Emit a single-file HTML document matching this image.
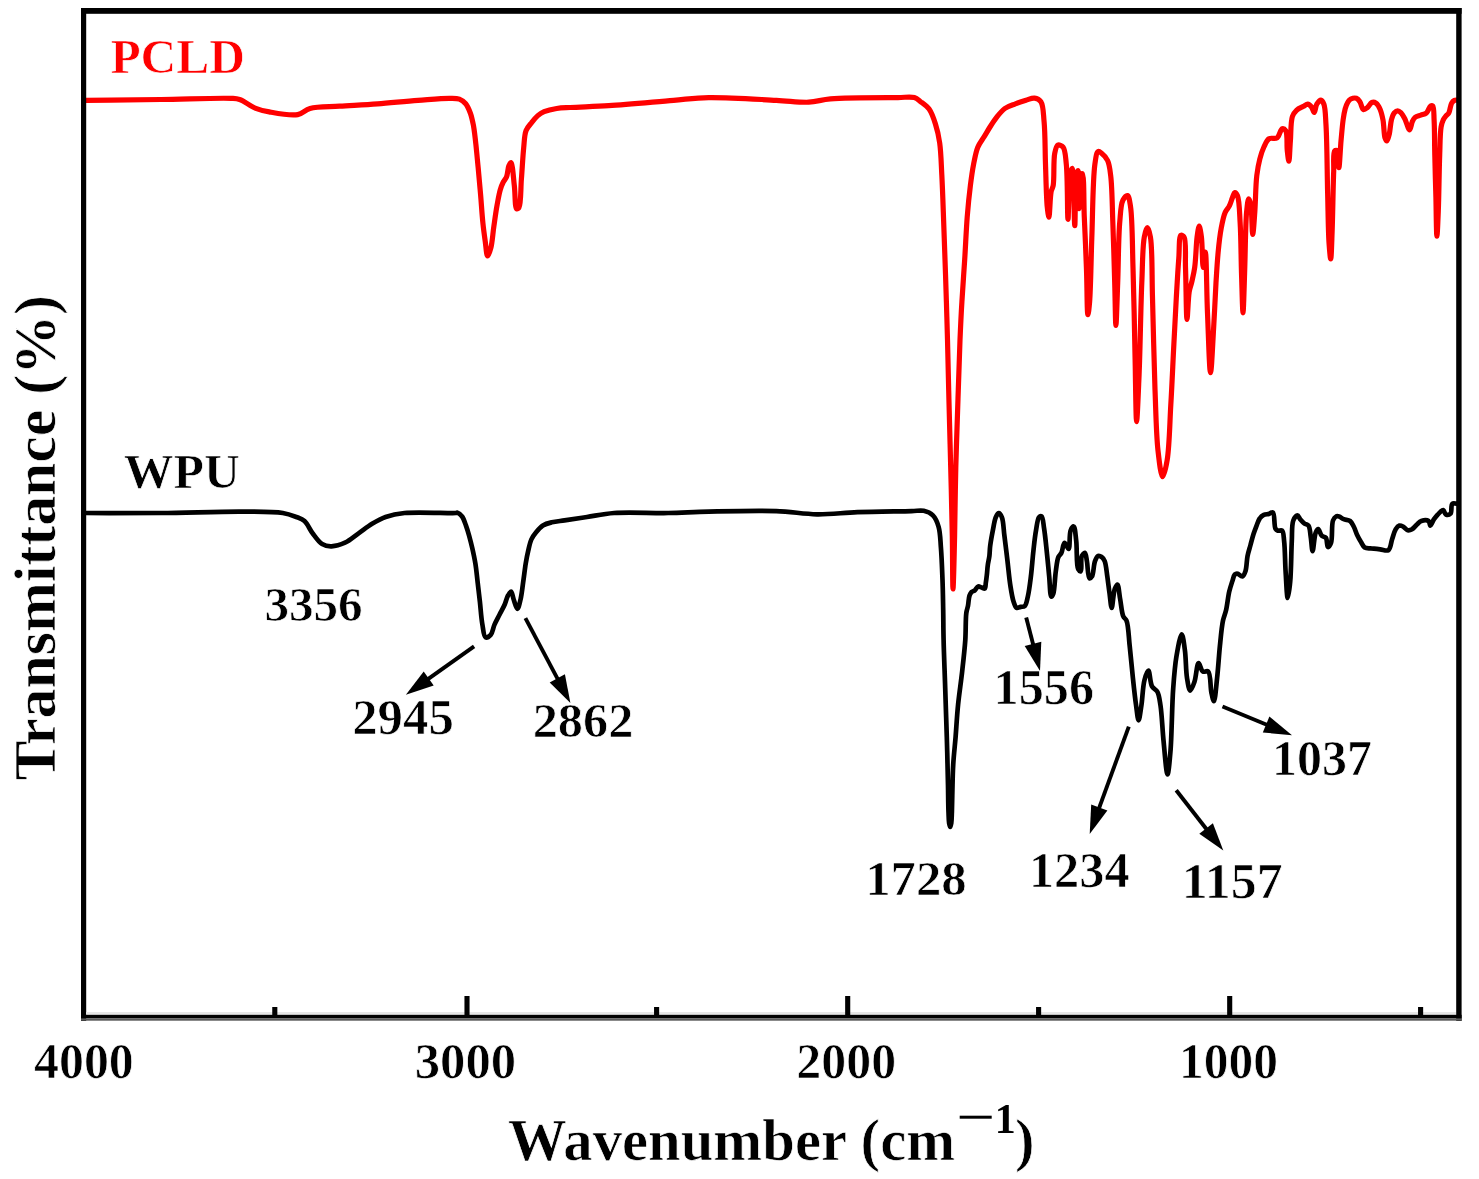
<!DOCTYPE html>
<html><head><meta charset="utf-8"><style>html,body{margin:0;padding:0;background:#fff;}svg{display:block;}</style></head>
<body>
<svg width="1479" height="1179" viewBox="0 0 1479 1179">
<rect width="1479" height="1179" fill="#fff"/>
<g fill="none" stroke-linejoin="round" stroke-linecap="round">
<path d="M86.0,513.0 C111.0,513.0 135.6,513.2 161.1,513.0 C187.6,512.8 219.9,511.4 242.3,511.6 C258.1,511.7 273.0,511.4 282.8,513.0 C288.6,513.9 292.5,515.5 296.4,517.0 C299.5,518.2 302.1,518.9 304.5,521.1 C307.6,523.9 309.7,529.5 312.6,533.3 C315.5,537.1 318.6,542.0 322.1,544.1 C325.0,545.8 328.1,546.4 331.5,546.3 C335.6,546.2 340.7,544.7 345.0,542.7 C349.7,540.5 354.1,536.5 358.6,533.3 C363.1,530.2 367.5,526.6 372.1,523.8 C376.5,521.2 380.6,518.8 385.6,517.0 C391.3,515.0 396.6,513.8 404.5,513.0 C417.4,511.7 450.6,513.5 455.9,513.0 C456.9,512.9 456.9,512.5 457.6,512.7 C458.8,513.0 460.8,514.8 462.1,516.5 C463.7,518.7 464.8,522.3 465.9,525.4 C467.1,528.7 468.1,532.0 469.1,535.6 C470.2,539.6 471.3,543.9 472.3,548.3 C473.4,553.2 474.5,558.2 475.4,563.6 C476.4,569.6 476.9,576.3 477.7,582.7 C478.4,589.1 479.2,595.2 479.9,601.8 C480.7,609.1 481.2,618.1 482.4,624.6 C483.3,629.5 483.6,636.5 485.6,637.4 C486.9,638.0 489.3,636.3 490.7,634.8 C492.6,632.7 493.0,628.0 494.5,624.6 C496.0,621.2 497.9,617.9 499.6,614.5 C501.3,611.2 503.3,607.8 504.7,604.5 C506.0,601.5 506.7,597.8 508.0,595.5 C508.9,593.8 510.2,591.4 511.1,591.6 C512.2,591.8 512.6,596.5 513.6,599.2 C514.7,602.2 516.2,608.8 517.4,608.8 C518.6,608.8 519.7,602.9 520.6,599.2 C521.7,594.5 522.3,588.4 523.1,582.7 C524.0,576.6 524.8,569.3 525.7,563.6 C526.5,558.9 527.2,555.0 528.2,550.9 C529.1,547.0 529.9,542.7 531.4,539.4 C532.7,536.5 534.6,534.1 536.5,531.8 C538.4,529.5 540.4,527.0 542.9,525.4 C545.5,523.8 548.5,523.1 551.8,522.3 C555.6,521.4 559.7,521.1 564.5,520.4 C570.9,519.4 579.2,518.2 587.0,517.0 C595.6,515.7 603.5,513.8 614.1,513.0 C629.0,511.9 651.5,513.3 668.2,513.0 C682.7,512.7 693.5,511.9 708.7,511.6 C728.4,511.2 756.7,510.4 776.4,511.1 C791.6,511.6 803.4,514.1 816.9,514.3 C830.4,514.5 843.0,512.7 857.5,512.2 C874.2,511.6 900.0,511.4 911.6,511.1 C917.1,511.0 920.0,510.0 923.7,510.8 C927.1,511.6 930.5,513.0 932.9,515.4 C935.6,518.1 937.3,522.3 938.6,526.8 C940.3,532.5 940.3,539.7 940.9,547.4 C941.7,557.0 942.1,569.4 942.5,580.0 C942.9,590.2 943.0,600.0 943.2,610.0 C943.4,620.0 943.3,628.8 943.6,640.0 C943.9,654.1 944.7,671.9 945.2,688.0 C945.7,704.2 946.3,720.7 946.8,737.0 C947.3,753.1 947.7,771.3 948.0,785.0 C948.2,795.3 948.2,805.0 948.5,812.0 C948.7,816.5 948.7,820.3 949.1,823.0 C949.4,824.7 949.8,827.0 950.2,827.0 C950.6,827.0 951.0,824.7 951.3,823.0 C951.7,820.3 951.7,816.3 951.9,812.0 C952.1,805.9 952.2,797.6 952.4,790.0 C952.6,781.9 952.7,773.6 953.2,765.0 C953.7,755.9 954.8,746.7 955.6,737.0 C956.4,726.6 957.0,715.3 958.1,704.5 C959.2,693.7 960.9,682.8 962.1,672.0 C963.3,661.3 964.6,650.2 965.3,640.0 C965.9,630.7 965.5,619.2 966.3,613.1 C966.7,609.9 967.5,608.4 968.0,605.8 C968.6,602.7 968.6,598.1 969.5,595.6 C970.1,594.0 970.7,592.9 971.6,592.0 C972.4,591.2 973.6,591.2 974.6,590.5 C975.8,589.6 976.9,586.9 978.2,586.5 C979.3,586.2 980.6,587.2 981.7,587.5 C982.8,587.8 984.1,588.9 984.8,588.5 C985.7,587.9 985.5,584.9 985.8,582.9 C986.2,580.6 986.5,578.0 986.8,575.3 C987.2,572.2 987.3,568.4 987.8,565.1 C988.2,562.0 989.0,559.1 989.4,556.0 C989.8,552.7 989.7,549.6 990.2,545.8 C990.8,540.8 992.2,533.6 993.2,528.5 C994.0,524.3 994.6,520.0 995.8,517.3 C996.6,515.5 997.8,513.2 998.8,513.2 C999.8,513.2 1001.1,515.3 1001.9,517.3 C1003.5,521.1 1003.5,529.0 1004.4,535.6 C1005.4,543.4 1006.5,552.6 1007.5,561.1 C1008.5,569.6 1009.3,579.1 1010.5,586.5 C1011.4,592.3 1012.3,597.9 1013.6,601.8 C1014.5,604.4 1015.2,607.2 1016.6,607.9 C1017.7,608.4 1019.3,607.2 1020.7,606.9 C1022.1,606.6 1023.7,606.9 1024.8,605.9 C1026.4,604.4 1026.9,600.4 1027.8,596.7 C1029.1,591.3 1030.0,583.6 1030.9,576.4 C1031.9,568.4 1032.5,558.9 1033.4,550.9 C1034.2,543.7 1034.9,536.5 1036.0,530.5 C1036.9,525.6 1037.4,519.2 1039.0,517.3 C1039.7,516.4 1040.9,515.9 1041.6,516.3 C1043.1,517.1 1043.3,523.8 1044.1,528.5 C1045.1,534.8 1045.9,543.2 1046.7,550.9 C1047.6,559.1 1048.4,568.4 1049.2,576.4 C1049.9,583.6 1050.0,596.4 1051.3,596.7 C1051.9,596.8 1052.7,595.3 1053.3,593.7 C1054.7,589.8 1054.8,577.9 1055.8,571.3 C1056.6,566.0 1057.0,560.2 1058.4,557.0 C1059.2,555.1 1060.5,554.7 1061.4,552.9 C1062.7,550.4 1063.1,543.0 1064.5,542.8 C1065.6,542.6 1067.6,549.1 1068.6,548.9 C1070.2,548.5 1069.1,534.3 1070.6,530.5 C1071.4,528.5 1072.9,526.3 1073.7,526.5 C1075.1,526.8 1075.5,535.1 1076.2,540.7 C1077.2,548.5 1076.1,565.3 1078.2,569.2 C1078.9,570.5 1080.2,571.6 1080.8,571.3 C1082.2,570.7 1080.4,559.0 1081.8,556.0 C1082.5,554.4 1084.1,552.7 1084.9,552.9 C1086.0,553.2 1086.3,557.8 1086.9,561.1 C1087.8,565.8 1087.8,577.7 1089.4,578.4 C1090.1,578.7 1091.3,577.6 1092.0,576.4 C1093.6,573.8 1093.6,564.7 1095.0,561.1 C1095.9,558.8 1096.8,556.5 1098.1,556.0 C1099.1,555.6 1100.7,556.3 1101.7,557.0 C1102.9,557.8 1103.9,559.2 1104.7,561.1 C1106.1,564.5 1106.5,571.2 1107.3,576.4 C1108.1,581.8 1108.7,587.6 1109.5,593.0 C1110.2,598.1 1110.9,607.9 1111.7,607.9 C1112.6,607.9 1113.3,592.8 1114.8,588.8 C1115.6,586.8 1116.7,584.4 1117.4,584.5 C1118.7,584.7 1119.2,594.3 1120.2,599.4 C1121.2,604.9 1121.7,612.8 1123.3,616.4 C1124.2,618.4 1125.6,618.4 1126.5,620.6 C1128.5,625.4 1128.7,637.1 1129.7,646.1 C1130.8,656.1 1131.8,667.7 1132.9,677.9 C1133.9,687.4 1135.0,697.7 1136.1,705.5 C1136.9,711.2 1137.7,720.3 1138.6,720.3 C1139.5,720.3 1140.5,711.1 1141.4,705.5 C1142.5,698.2 1142.8,686.4 1144.5,680.0 C1145.5,676.0 1147.3,670.4 1148.4,670.5 C1149.8,670.6 1150.0,682.7 1152.0,686.4 C1153.4,688.9 1156.0,689.3 1157.3,691.7 C1159.2,695.0 1159.6,699.8 1160.5,705.5 C1161.9,714.6 1162.4,729.8 1163.6,741.5 C1164.7,752.7 1166.3,774.4 1167.5,774.4 C1168.5,774.4 1169.6,761.5 1170.4,752.1 C1171.8,736.4 1171.9,706.0 1173.2,688.5 C1174.1,676.1 1174.8,666.3 1176.4,656.7 C1177.8,648.6 1180.2,634.4 1181.7,634.4 C1183.0,634.4 1184.1,644.2 1184.9,650.3 C1186.0,658.2 1185.8,670.5 1187.0,677.9 C1187.8,683.0 1188.8,690.5 1190.2,690.6 C1191.4,690.7 1193.2,685.6 1194.4,682.1 C1196.2,677.1 1196.8,663.2 1198.6,663.0 C1199.8,662.8 1200.9,670.3 1202.9,671.5 C1204.4,672.4 1206.8,670.3 1208.2,671.5 C1210.9,673.8 1210.2,687.3 1211.4,692.7 C1212.2,696.2 1213.1,701.3 1213.9,701.2 C1215.1,701.1 1216.2,686.3 1217.1,677.9 C1218.2,668.1 1218.9,656.1 1219.9,646.1 C1220.8,637.1 1221.6,627.2 1223.0,620.6 C1223.9,616.3 1225.2,614.0 1226.1,610.0 C1227.3,604.8 1228.0,597.0 1229.2,591.8 C1230.1,587.9 1231.2,584.7 1232.2,581.6 C1233.1,579.0 1233.6,575.7 1234.8,574.5 C1235.5,573.8 1236.3,573.4 1237.3,573.5 C1238.7,573.6 1241.0,576.9 1242.4,576.5 C1243.8,576.1 1244.6,573.7 1245.4,571.4 C1246.7,567.8 1246.6,560.9 1247.5,556.2 C1248.3,552.2 1249.5,548.7 1250.5,545.0 C1251.5,541.3 1252.5,537.2 1253.6,533.8 C1254.6,530.8 1255.6,528.2 1256.6,525.6 C1257.6,523.1 1258.3,520.4 1259.7,518.5 C1260.8,516.9 1262.2,515.7 1263.8,514.9 C1265.3,514.2 1267.3,514.3 1268.9,513.9 C1270.3,513.5 1271.9,511.8 1272.9,512.4 C1274.9,513.6 1273.9,526.0 1275.5,528.7 C1276.2,529.9 1277.0,530.3 1278.0,530.7 C1279.1,531.1 1281.1,529.9 1282.1,530.7 C1283.7,532.0 1283.6,536.6 1284.1,540.9 C1285.0,548.3 1285.0,561.6 1285.6,571.4 C1286.2,580.5 1286.8,597.9 1287.7,597.9 C1288.4,597.9 1289.6,588.3 1290.2,581.6 C1291.2,571.1 1291.2,552.1 1291.8,540.9 C1292.2,532.9 1291.6,524.9 1293.3,520.5 C1294.3,518.0 1296.2,515.4 1297.4,515.4 C1298.5,515.4 1299.3,518.2 1300.4,519.5 C1301.6,520.9 1303.1,522.6 1304.5,523.6 C1305.8,524.5 1307.5,524.3 1308.5,525.6 C1310.0,527.6 1310.0,532.0 1310.6,535.8 C1311.4,540.4 1311.8,551.1 1312.6,551.1 C1313.5,551.1 1314.2,536.3 1315.7,532.7 C1316.4,531.0 1317.3,529.1 1318.2,529.2 C1319.3,529.3 1320.3,534.4 1321.8,535.8 C1323.0,536.9 1324.9,536.5 1325.9,537.8 C1327.3,539.6 1326.8,546.8 1327.9,547.0 C1328.7,547.2 1330.2,545.0 1331.0,542.9 C1332.7,538.6 1331.3,524.8 1333.0,520.5 C1333.8,518.5 1334.8,517.1 1336.0,516.5 C1336.9,516.0 1338.0,516.2 1339.1,516.5 C1340.5,516.9 1342.0,518.5 1343.7,519.2 C1345.6,520.0 1348.4,519.8 1350.1,521.0 C1351.8,522.2 1352.6,524.4 1353.7,526.5 C1355.1,529.1 1356.1,532.9 1357.4,535.6 C1358.5,538.0 1359.7,540.0 1361.0,542.0 C1362.2,543.9 1363.0,546.4 1364.7,547.5 C1366.4,548.6 1368.8,548.1 1371.1,548.4 C1373.9,548.7 1377.2,549.0 1380.2,549.3 C1383.0,549.6 1386.4,551.4 1388.4,550.2 C1390.7,548.7 1390.9,542.9 1392.1,539.3 C1393.3,535.9 1394.2,531.6 1395.7,529.2 C1396.8,527.5 1398.1,526.0 1399.4,525.6 C1400.5,525.3 1401.8,525.9 1403.0,526.5 C1404.5,527.3 1406.0,529.8 1407.6,530.2 C1409.0,530.5 1410.7,530.0 1412.1,529.2 C1413.8,528.3 1415.1,526.1 1416.7,524.7 C1418.2,523.4 1419.5,521.6 1421.3,521.0 C1423.3,520.3 1427.1,520.0 1428.6,521.0 C1429.8,521.8 1429.6,525.5 1430.4,525.6 C1431.3,525.7 1432.7,521.1 1434.0,519.2 C1435.2,517.5 1436.3,516.1 1437.7,514.6 C1439.3,513.0 1441.8,509.9 1443.2,510.1 C1444.4,510.3 1444.6,514.0 1445.9,514.6 C1447.1,515.1 1449.4,514.8 1450.5,513.7 C1452.1,512.1 1450.7,505.0 1452.3,503.7 C1453.4,502.8 1455.4,503.7 1457.0,503.7" stroke="#000" stroke-width="4.7"/>
<path d="M86.0,100.3 C111.0,100.0 136.4,99.8 161.0,99.5 C184.9,99.2 219.6,97.7 231.5,98.4 C235.5,98.6 236.5,98.5 239.6,99.5 C244.2,101.0 250.5,106.3 255.8,108.4 C260.4,110.2 263.9,111.0 269.3,111.9 C277.0,113.3 290.3,116.0 297.7,114.6 C302.8,113.6 304.8,109.8 310.0,108.4 C317.6,106.3 329.1,106.9 339.6,106.2 C351.5,105.4 364.7,104.8 377.5,103.8 C390.8,102.8 405.3,101.2 418.0,100.3 C429.3,99.5 442.5,98.2 450.0,98.3 C454.1,98.3 456.7,98.1 459.4,99.1 C461.9,100.0 463.9,101.7 465.7,103.8 C467.7,106.2 469.1,109.8 470.4,113.2 C471.8,117.0 472.6,121.2 473.5,125.8 C474.5,131.4 475.2,138.0 475.9,144.6 C476.7,152.0 477.4,160.0 478.2,168.1 C479.0,176.7 479.8,185.8 480.6,194.8 C481.4,204.1 482.0,214.5 482.9,223.0 C483.6,229.9 484.5,236.1 485.3,241.9 C486.0,247.0 486.5,255.9 487.6,256.0 C488.5,256.1 489.9,251.5 490.8,248.1 C492.3,242.7 492.8,233.4 493.9,226.2 C494.9,219.1 495.9,211.4 497.1,205.0 C498.1,199.6 499.0,194.2 500.2,190.0 C501.1,186.9 502.1,184.3 503.3,182.0 C504.3,180.1 505.6,179.1 506.5,177.0 C507.7,174.1 507.8,168.6 508.8,166.0 C509.4,164.4 510.3,162.4 511.0,162.5 C512.5,162.8 513.4,177.7 514.3,185.4 C515.3,193.2 514.8,208.0 516.7,208.9 C517.3,209.2 518.4,208.5 519.0,207.4 C521.1,203.9 520.6,188.8 521.4,179.1 C522.2,168.9 522.8,156.6 523.7,147.7 C524.4,141.1 524.3,135.0 526.1,130.5 C527.4,127.2 529.6,125.1 531.6,122.6 C533.5,120.1 535.6,117.5 537.8,115.6 C539.8,113.9 541.5,112.8 544.1,111.7 C547.5,110.3 552.4,109.2 556.7,108.5 C561.0,107.8 564.4,107.8 570.0,107.5 C579.5,106.9 594.2,106.6 608.7,105.7 C627.6,104.5 655.3,101.8 673.6,100.3 C687.1,99.2 695.1,97.9 708.7,97.6 C727.6,97.3 757.9,99.4 776.4,100.3 C789.2,100.9 799.1,102.6 808.8,102.2 C816.8,101.8 821.2,99.7 830.5,98.9 C846.7,97.5 883.2,97.7 898.0,97.6 C905.3,97.5 910.3,96.4 914.3,97.6 C917.0,98.4 918.4,100.0 920.6,101.7 C923.3,103.7 926.8,105.9 929.1,109.1 C931.9,113.0 933.7,118.6 935.4,123.9 C937.3,129.8 938.7,135.8 939.7,143.0 C941.0,152.2 941.2,163.4 941.8,174.7 C942.5,187.8 943.0,203.0 943.5,217.1 C944.0,231.2 944.5,245.4 945.0,259.5 C945.5,273.6 946.0,288.2 946.4,301.9 C946.8,314.9 947.1,325.8 947.5,339.8 C948.0,357.3 948.4,378.2 948.9,398.6 C949.5,420.6 950.1,444.4 950.7,467.3 C951.3,490.2 951.9,514.6 952.3,536.0 C952.6,554.8 952.6,589.0 953.0,589.0 C953.4,589.0 954.2,554.8 954.6,536.0 C955.1,514.6 955.2,490.2 955.8,467.3 C956.4,444.4 957.3,420.6 958.0,398.6 C958.7,378.3 959.3,357.4 960.0,340.0 C960.6,325.9 961.1,314.9 961.9,301.9 C962.7,288.1 963.8,273.6 964.7,259.5 C965.6,245.4 966.2,230.2 967.2,217.1 C968.1,205.7 969.2,194.8 970.4,185.3 C971.4,177.5 972.3,170.8 973.6,164.2 C974.8,158.2 975.8,152.1 977.8,147.2 C979.5,143.1 982.1,140.0 984.2,136.6 C986.2,133.3 988.0,130.2 990.0,127.0 C992.0,123.8 994.0,120.6 996.4,117.6 C998.9,114.4 1001.6,110.8 1004.8,108.5 C1007.9,106.3 1011.8,105.2 1015.4,103.8 C1018.9,102.4 1022.6,101.2 1026.0,100.2 C1029.0,99.3 1031.9,97.8 1034.5,98.1 C1036.9,98.4 1039.3,99.4 1040.9,101.7 C1043.5,105.5 1043.3,113.8 1044.1,121.8 C1045.2,133.3 1045.0,150.1 1045.5,164.2 C1046.0,178.3 1046.3,197.2 1047.2,206.6 C1047.7,211.3 1048.4,217.2 1048.9,217.2 C1049.7,217.2 1050.0,197.4 1051.1,191.8 C1051.7,188.9 1052.6,188.4 1053.2,185.4 C1054.4,178.9 1053.3,160.8 1054.7,153.6 C1055.5,149.8 1056.1,145.9 1057.8,145.1 C1059.1,144.5 1061.8,145.6 1063.1,147.2 C1065.4,150.0 1065.5,156.9 1066.3,164.2 C1067.7,177.3 1067.3,219.3 1068.0,219.3 C1068.6,219.3 1068.5,182.9 1070.1,174.8 C1070.7,171.6 1071.7,168.3 1072.3,168.4 C1073.4,168.6 1073.3,186.6 1073.7,196.0 C1074.1,205.7 1074.4,225.7 1074.8,225.7 C1075.3,225.7 1075.1,182.3 1076.5,174.8 C1076.9,172.6 1077.6,170.5 1078.0,170.6 C1079.2,170.8 1078.5,208.7 1079.0,208.7 C1079.4,208.7 1078.9,178.2 1080.7,174.8 C1081.1,174.0 1081.8,173.5 1082.2,173.7 C1084.3,174.7 1083.6,202.0 1084.3,217.2 C1085.1,234.0 1085.9,253.3 1086.5,270.2 C1087.1,285.7 1087.0,314.7 1087.9,314.7 C1088.4,314.7 1089.1,307.9 1089.6,302.0 C1090.7,288.9 1091.0,260.4 1091.8,238.4 C1092.7,214.6 1092.8,178.6 1094.9,164.2 C1095.8,158.1 1096.4,152.3 1098.1,151.5 C1099.0,151.1 1100.2,152.1 1101.3,153.0 C1103.2,154.5 1106.1,157.3 1107.6,160.5 C1109.5,164.5 1109.9,169.3 1110.7,175.8 C1112.1,186.9 1112.2,205.2 1112.8,221.6 C1113.5,240.5 1114.2,264.2 1114.7,282.7 C1115.2,298.2 1115.4,325.4 1115.9,325.4 C1116.4,325.4 1117.1,298.2 1117.7,282.7 C1118.4,264.2 1118.4,236.7 1119.8,221.6 C1120.6,212.6 1120.7,204.5 1122.9,200.2 C1124.1,197.8 1126.3,195.3 1127.5,195.6 C1129.1,196.0 1129.7,201.2 1130.5,206.3 C1132.4,218.3 1132.3,245.0 1133.0,267.4 C1133.9,294.8 1134.5,331.4 1135.1,359.0 C1135.6,381.8 1135.9,421.6 1136.6,421.6 C1137.2,421.6 1138.3,392.7 1139.1,374.3 C1140.2,348.8 1140.7,308.0 1141.8,282.7 C1142.6,264.8 1142.5,246.3 1144.3,236.9 C1145.1,232.6 1146.3,227.7 1147.3,227.7 C1148.3,227.7 1149.6,232.4 1150.4,236.9 C1152.5,248.2 1151.8,275.5 1152.5,297.9 C1153.3,325.3 1154.0,362.1 1155.0,389.5 C1155.9,411.9 1156.2,434.6 1158.0,450.6 C1159.2,461.1 1160.9,476.5 1162.6,476.6 C1164.0,476.7 1166.0,467.1 1167.2,459.8 C1169.4,446.8 1169.7,423.6 1170.8,404.8 C1172.0,385.0 1172.9,362.6 1173.9,343.7 C1174.7,327.3 1175.5,312.6 1176.3,297.9 C1177.1,284.2 1177.9,269.6 1178.8,258.2 C1179.5,249.5 1178.8,236.5 1180.9,235.3 C1181.7,234.9 1183.2,235.6 1184.0,236.9 C1186.4,240.6 1185.1,255.9 1185.5,267.4 C1186.1,282.4 1186.2,319.3 1187.0,319.3 C1187.6,319.3 1188.1,298.5 1189.2,291.8 C1189.9,287.9 1190.8,286.1 1191.6,282.7 C1192.6,278.3 1193.9,273.4 1194.7,267.4 C1195.9,259.0 1196.1,244.4 1197.1,236.9 C1197.7,232.4 1198.5,226.2 1199.2,226.2 C1199.9,226.2 1200.8,232.4 1201.4,236.9 C1202.4,244.4 1202.4,267.4 1203.2,267.4 C1203.8,267.4 1204.7,252.1 1205.3,252.1 C1206.5,252.2 1206.6,293.0 1207.5,313.2 C1208.4,333.2 1209.4,372.7 1210.5,372.7 C1211.5,372.7 1212.7,343.4 1213.6,328.5 C1214.5,313.4 1215.2,296.3 1216.0,282.7 C1216.7,271.7 1217.2,262.3 1218.1,252.8 C1218.9,244.2 1219.8,235.6 1221.2,228.3 C1222.3,222.3 1223.5,216.1 1225.3,212.1 C1226.5,209.5 1228.2,208.3 1229.3,206.0 C1230.6,203.5 1231.4,200.2 1232.4,197.8 C1233.2,195.9 1233.9,192.8 1234.8,192.7 C1235.6,192.6 1236.8,194.1 1237.5,195.8 C1239.4,200.2 1239.5,212.0 1240.1,222.2 C1241.0,236.4 1241.0,257.2 1241.5,273.1 C1242.0,287.2 1242.5,312.8 1243.0,312.8 C1243.5,312.8 1244.1,287.8 1244.6,273.1 C1245.3,254.9 1245.4,225.0 1246.6,212.1 C1247.2,206.0 1247.8,198.9 1248.7,198.8 C1249.3,198.7 1250.1,201.4 1250.7,203.9 C1252.0,209.8 1252.0,234.5 1252.7,234.5 C1253.3,234.5 1254.2,220.5 1254.8,212.1 C1255.6,201.4 1255.6,185.2 1256.8,175.5 C1257.6,169.0 1258.5,164.2 1259.8,159.2 C1260.9,154.8 1262.2,150.6 1263.9,147.0 C1265.4,143.9 1266.7,140.3 1269.0,138.8 C1271.2,137.4 1275.0,139.2 1277.1,137.8 C1279.5,136.2 1280.4,129.2 1282.2,128.7 C1283.3,128.4 1284.8,129.3 1285.7,130.7 C1287.7,133.8 1286.6,145.4 1287.3,151.0 C1287.8,155.0 1288.4,161.2 1288.9,161.2 C1289.5,161.2 1289.8,148.0 1290.4,140.9 C1291.0,133.1 1290.6,121.8 1292.4,116.5 C1293.4,113.6 1294.7,112.0 1296.5,110.3 C1298.4,108.5 1301.5,107.4 1303.6,106.3 C1305.1,105.5 1306.4,104.1 1307.7,104.2 C1309.1,104.3 1310.6,106.0 1311.7,107.3 C1312.8,108.7 1313.4,112.5 1314.2,112.4 C1315.2,112.3 1315.5,106.3 1316.8,104.2 C1317.9,102.5 1319.7,100.1 1320.9,100.2 C1322.0,100.3 1323.1,102.2 1323.9,104.2 C1325.5,108.3 1325.4,116.1 1326.0,125.0 C1327.0,140.9 1327.1,171.0 1327.6,191.7 C1328.1,209.8 1328.2,230.3 1329.0,242.6 C1329.5,249.6 1330.2,258.9 1330.7,258.9 C1331.3,258.9 1331.7,243.1 1332.1,232.4 C1332.7,216.2 1333.1,186.3 1333.7,171.4 C1334.0,162.7 1332.8,152.6 1334.7,150.8 C1335.4,150.1 1336.8,150.1 1337.5,150.8 C1339.3,152.4 1338.4,167.6 1338.9,167.6 C1339.5,167.6 1340.3,149.3 1341.0,141.0 C1341.7,133.6 1342.3,125.9 1343.1,120.0 C1343.7,115.7 1344.3,112.1 1345.2,108.8 C1346.0,106.2 1346.9,103.5 1348.0,101.8 C1348.8,100.5 1349.6,99.6 1350.8,99.0 C1352.3,98.3 1354.9,97.8 1356.4,98.3 C1357.8,98.8 1358.9,100.3 1359.9,101.8 C1361.3,103.8 1361.8,108.9 1363.4,109.5 C1364.6,109.9 1366.3,108.4 1367.6,107.4 C1369.1,106.2 1370.2,103.1 1371.8,102.5 C1373.1,102.0 1374.8,102.4 1376.0,103.2 C1377.7,104.3 1379.1,107.0 1380.2,109.5 C1381.5,112.5 1382.2,116.0 1383.0,120.0 C1384.0,125.2 1383.9,134.9 1385.1,138.2 C1385.6,139.6 1386.3,141.1 1386.9,141.0 C1387.8,140.9 1388.6,136.8 1389.3,134.0 C1390.2,130.2 1390.4,123.8 1391.4,120.0 C1392.2,117.2 1392.9,114.5 1394.2,113.0 C1395.2,111.9 1396.5,110.9 1397.7,110.9 C1398.9,110.9 1400.1,112.0 1401.2,113.0 C1402.5,114.3 1403.5,116.4 1404.7,118.6 C1406.3,121.6 1408.3,129.9 1409.6,129.8 C1410.7,129.7 1411.3,123.7 1412.4,121.4 C1413.2,119.7 1413.9,118.2 1415.2,117.2 C1416.6,116.1 1418.9,115.8 1420.8,115.1 C1422.7,114.4 1424.8,114.3 1426.4,113.0 C1428.2,111.5 1429.2,106.8 1430.6,106.0 C1431.3,105.6 1432.1,105.5 1432.7,106.0 C1434.1,107.3 1433.8,114.3 1434.1,120.0 C1434.6,129.0 1434.5,142.8 1434.8,155.0 C1435.1,168.4 1435.5,183.2 1435.9,197.0 C1436.2,210.3 1436.4,236.2 1436.9,236.2 C1437.3,236.2 1437.9,221.1 1438.3,211.0 C1438.9,196.0 1439.1,170.5 1439.7,155.0 C1440.1,144.1 1440.0,133.2 1441.1,127.0 C1441.6,123.8 1442.3,122.0 1443.2,120.0 C1444.0,118.4 1445.0,117.0 1446.0,115.8 C1446.9,114.7 1448.0,114.4 1448.8,113.0 C1450.1,110.8 1450.3,105.4 1451.6,103.2 C1452.4,101.8 1453.4,100.9 1454.4,100.4 C1455.2,100.0 1456.1,100.1 1457.0,100.0" stroke="#f00" stroke-width="5.2"/>
</g>
<g fill="#000">
<rect x="81" y="8" width="5.2" height="1013"/>
<rect x="1456.2" y="8" width="5.4" height="1013"/>
<rect x="81" y="8" width="1380.6" height="5.8"/>
<rect x="86" y="1012" width="1370" height="2.6" fill="#e6e6e6"/><rect x="81" y="1014.8" width="1380.6" height="3.6"/><rect x="81" y="1018.4" width="1380.6" height="2.3" fill="#5a5a5a"/>
<rect x="464.45" y="996" width="5.1" height="20" fill="#000"/><rect x="845.15" y="996" width="5.1" height="20" fill="#000"/><rect x="1227.15" y="996" width="5.1" height="20" fill="#000"/><rect x="272.25" y="1007" width="5.1" height="9" fill="#000"/><rect x="654.05" y="1007" width="5.1" height="9" fill="#000"/><rect x="1036.05" y="1007" width="5.1" height="9" fill="#000"/><rect x="1418.05" y="1007" width="5.1" height="9" fill="#000"/>
</g>
<line x1="474.1" y1="646.3" x2="425.5" y2="680.9" stroke="#000" stroke-width="3.9"/><polygon points="405.9,694.8 423.7,671.6 433.7,685.6" fill="#000"/><line x1="525.4" y1="618.2" x2="559.2" y2="681.9" stroke="#000" stroke-width="3.9"/><polygon points="570.4,703.1 549.7,682.4 564.9,674.3" fill="#000"/><line x1="1026.2" y1="617.6" x2="1034.0" y2="647.8" stroke="#000" stroke-width="3.9"/><polygon points="1040.0,671.0 1024.7,646.0 1041.3,641.7" fill="#000"/><line x1="1128.8" y1="726.6" x2="1097.9" y2="811.4" stroke="#000" stroke-width="3.9"/><polygon points="1089.7,833.9 1091.2,804.6 1107.4,810.5" fill="#000"/><line x1="1176.2" y1="790.2" x2="1208.5" y2="831.7" stroke="#000" stroke-width="3.9"/><polygon points="1223.3,850.6 1199.3,833.8 1212.9,823.2" fill="#000"/><line x1="1222.5" y1="706.5" x2="1269.8" y2="726.0" stroke="#000" stroke-width="3.9"/><polygon points="1292.0,735.2 1262.8,732.5 1269.4,716.6" fill="#000"/>
<g font-family="Liberation Serif" font-weight="bold" stroke="#fff" stroke-width="0.7">
<text transform="matrix(0.9955,0,0,0.9848,110.40,73.30)" font-size="49.7" fill="#f00">PCLD</text><text transform="matrix(1.0018,0,0,0.9559,123.70,487.54)" font-size="49.7" fill="#000">WPU</text><text transform="matrix(1.0032,0,0,0.9844,264.39,620.80)" font-size="49" fill="#000">3356</text><text transform="matrix(1.0362,0,0,1.0125,352.23,733.80)" font-size="49" fill="#000">2945</text><text transform="matrix(1.0277,0,0,0.9781,532.64,736.80)" font-size="49" fill="#000">2862</text><text transform="matrix(1.0247,0,0,1.0125,993.60,703.80)" font-size="49" fill="#000">1556</text><text transform="matrix(1.0370,0,0,0.9906,865.15,894.80)" font-size="49" fill="#000">1728</text><text transform="matrix(1.0290,0,0,1.0281,1028.88,886.80)" font-size="49" fill="#000">1234</text><text transform="matrix(1.0589,0,0,1.0281,1181.76,897.60)" font-size="49" fill="#000">1157</text><text transform="matrix(1.0204,0,0,1.0156,1271.92,774.80)" font-size="49" fill="#000">1037</text><text transform="matrix(1.0168,0,0,1.0156,34.08,1077.60)" font-size="49" fill="#000">4000</text><text transform="matrix(1.0351,0,0,1.0156,414.73,1077.60)" font-size="49" fill="#000">3000</text><text transform="matrix(1.0181,0,0,1.0156,796.36,1077.60)" font-size="49" fill="#000">2000</text><text transform="matrix(1.0098,0,0,1.0156,1178.96,1077.60)" font-size="49" fill="#000">1000</text><text x="507.9" y="1159.6" font-size="58.7" fill="#000" text-anchor="start">Wavenumber (cm</text><rect x="959.7" y="1115.7" width="32" height="3" fill="#000" stroke="none"/><text transform="translate(994.7,1132.6)" font-size="42" stroke="none" style="will-change:transform">1</text><text x="1015" y="1159.6" font-size="58.7" fill="#000" text-anchor="start">)</text><text transform="translate(55,780.5) rotate(-90)" x="0" y="0" font-size="59.8">Transmittance (%)</text>
</g>
</svg>
</body></html>
